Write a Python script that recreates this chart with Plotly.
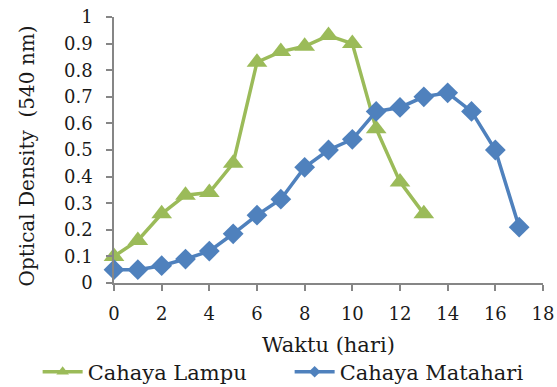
import plotly.graph_objects as go

# Optical density (540 nm) readings per day
days_lampu = [0, 1, 2, 3, 4, 5, 6, 7, 8, 9, 10, 11, 12, 13]
od_lampu = [0.10, 0.16, 0.26, 0.33, 0.34, 0.45, 0.83, 0.87, 0.89, 0.93, 0.90, 0.58, 0.38, 0.26]

days_matahari = [0, 1, 2, 3, 4, 5, 6, 7, 8, 9, 10, 11, 12, 13, 14, 15, 16, 17]
od_matahari = [0.05, 0.05, 0.065, 0.09, 0.12, 0.185, 0.255, 0.315, 0.435, 0.50,
               0.54, 0.645, 0.66, 0.70, 0.715, 0.645, 0.50, 0.21]

series_names = ["Cahaya Lampu", "Cahaya Matahari"]

x_ticks = list(range(0, 19, 2))
y_ticks = [round(i * 0.1, 1) for i in range(11)]
y_tick_labels = ["0", "0.1", "0.2", "0.3", "0.4", "0.5", "0.6", "0.7", "0.8", "0.9", "1"]

GREEN = "#9BBB59"
BLUE = "#4F81BD"
AXIS = "#868686"
TEXT = "#1a1a1a"
FONT = "DejaVu Serif"

styles = [
    dict(x=days_lampu, y=od_lampu, color=GREEN, symbol="triangle-up", size=18, legend_size=11),
    dict(x=days_matahari, y=od_matahari, color=BLUE, symbol="diamond", size=16, legend_size=9),
]

fig = go.Figure()
for name, s in zip(series_names, styles):
    fig.add_trace(go.Scatter(
        x=s["x"], y=s["y"], name=name, mode="lines+markers", showlegend=False,
        line=dict(color=s["color"], width=3.5),
        marker=dict(symbol=s["symbol"], size=s["size"], color=s["color"]),
        cliponaxis=False,
    ))
# legend entries use smaller marker glyphs than the plotted series
for name, s in zip(series_names, styles):
    fig.add_trace(go.Scatter(
        x=[None], y=[None], name=name, mode="lines+markers", showlegend=True,
        line=dict(color=s["color"], width=3.5),
        marker=dict(symbol=s["symbol"], size=s["legend_size"], color=s["color"]),
    ))

fig.update_layout(
    width=557, height=387,
    margin=dict(l=114, r=14, t=17, b=104, autoexpand=False),
    paper_bgcolor="white", plot_bgcolor="white",
    font=dict(family=FONT, color=TEXT, size=17),
    showlegend=True,
    legend=dict(
        orientation="h", x=-0.178, xanchor="left", y=-0.335, yanchor="middle",
        font=dict(family=FONT, size=21, color=TEXT),
        itemwidth=40, entrywidth=197, entrywidthmode="pixels",
        traceorder="normal", bgcolor="rgba(0,0,0,0)",
    ),
    annotations=[
        dict(text="Waktu (hari)", x=0.5, y=-0.232, xref="paper", yref="paper",
             showarrow=False, font=dict(family=FONT, size=21, color=TEXT),
             xanchor="center", yanchor="middle"),
        dict(text="Optical Density  (540 nm)", x=-0.203, y=0.479, xref="paper", yref="paper",
             showarrow=False, textangle=-90,
             font=dict(family=FONT, size=20, color=TEXT),
             xanchor="center", yanchor="middle"),
    ],
)
fig.update_xaxes(
    range=[0, 18], tickvals=x_ticks, showgrid=False, zeroline=False,
    showline=True, linecolor=AXIS, linewidth=1.5,
    ticks="outside", ticklen=6, tickcolor=AXIS, tickwidth=1.5, ticklabelstandoff=8,
    tickfont=dict(family=FONT, size=18, color=TEXT),
)
fig.update_yaxes(
    range=[0, 1], tickvals=y_ticks, ticktext=y_tick_labels, showgrid=False, zeroline=False,
    showline=True, linecolor=AXIS, linewidth=1.5,
    ticks="outside", ticklen=6, tickcolor=AXIS, tickwidth=1.5, ticklabelstandoff=10,
    tickfont=dict(family=FONT, size=18, color=TEXT),
)

fig.write_html("out.html")
